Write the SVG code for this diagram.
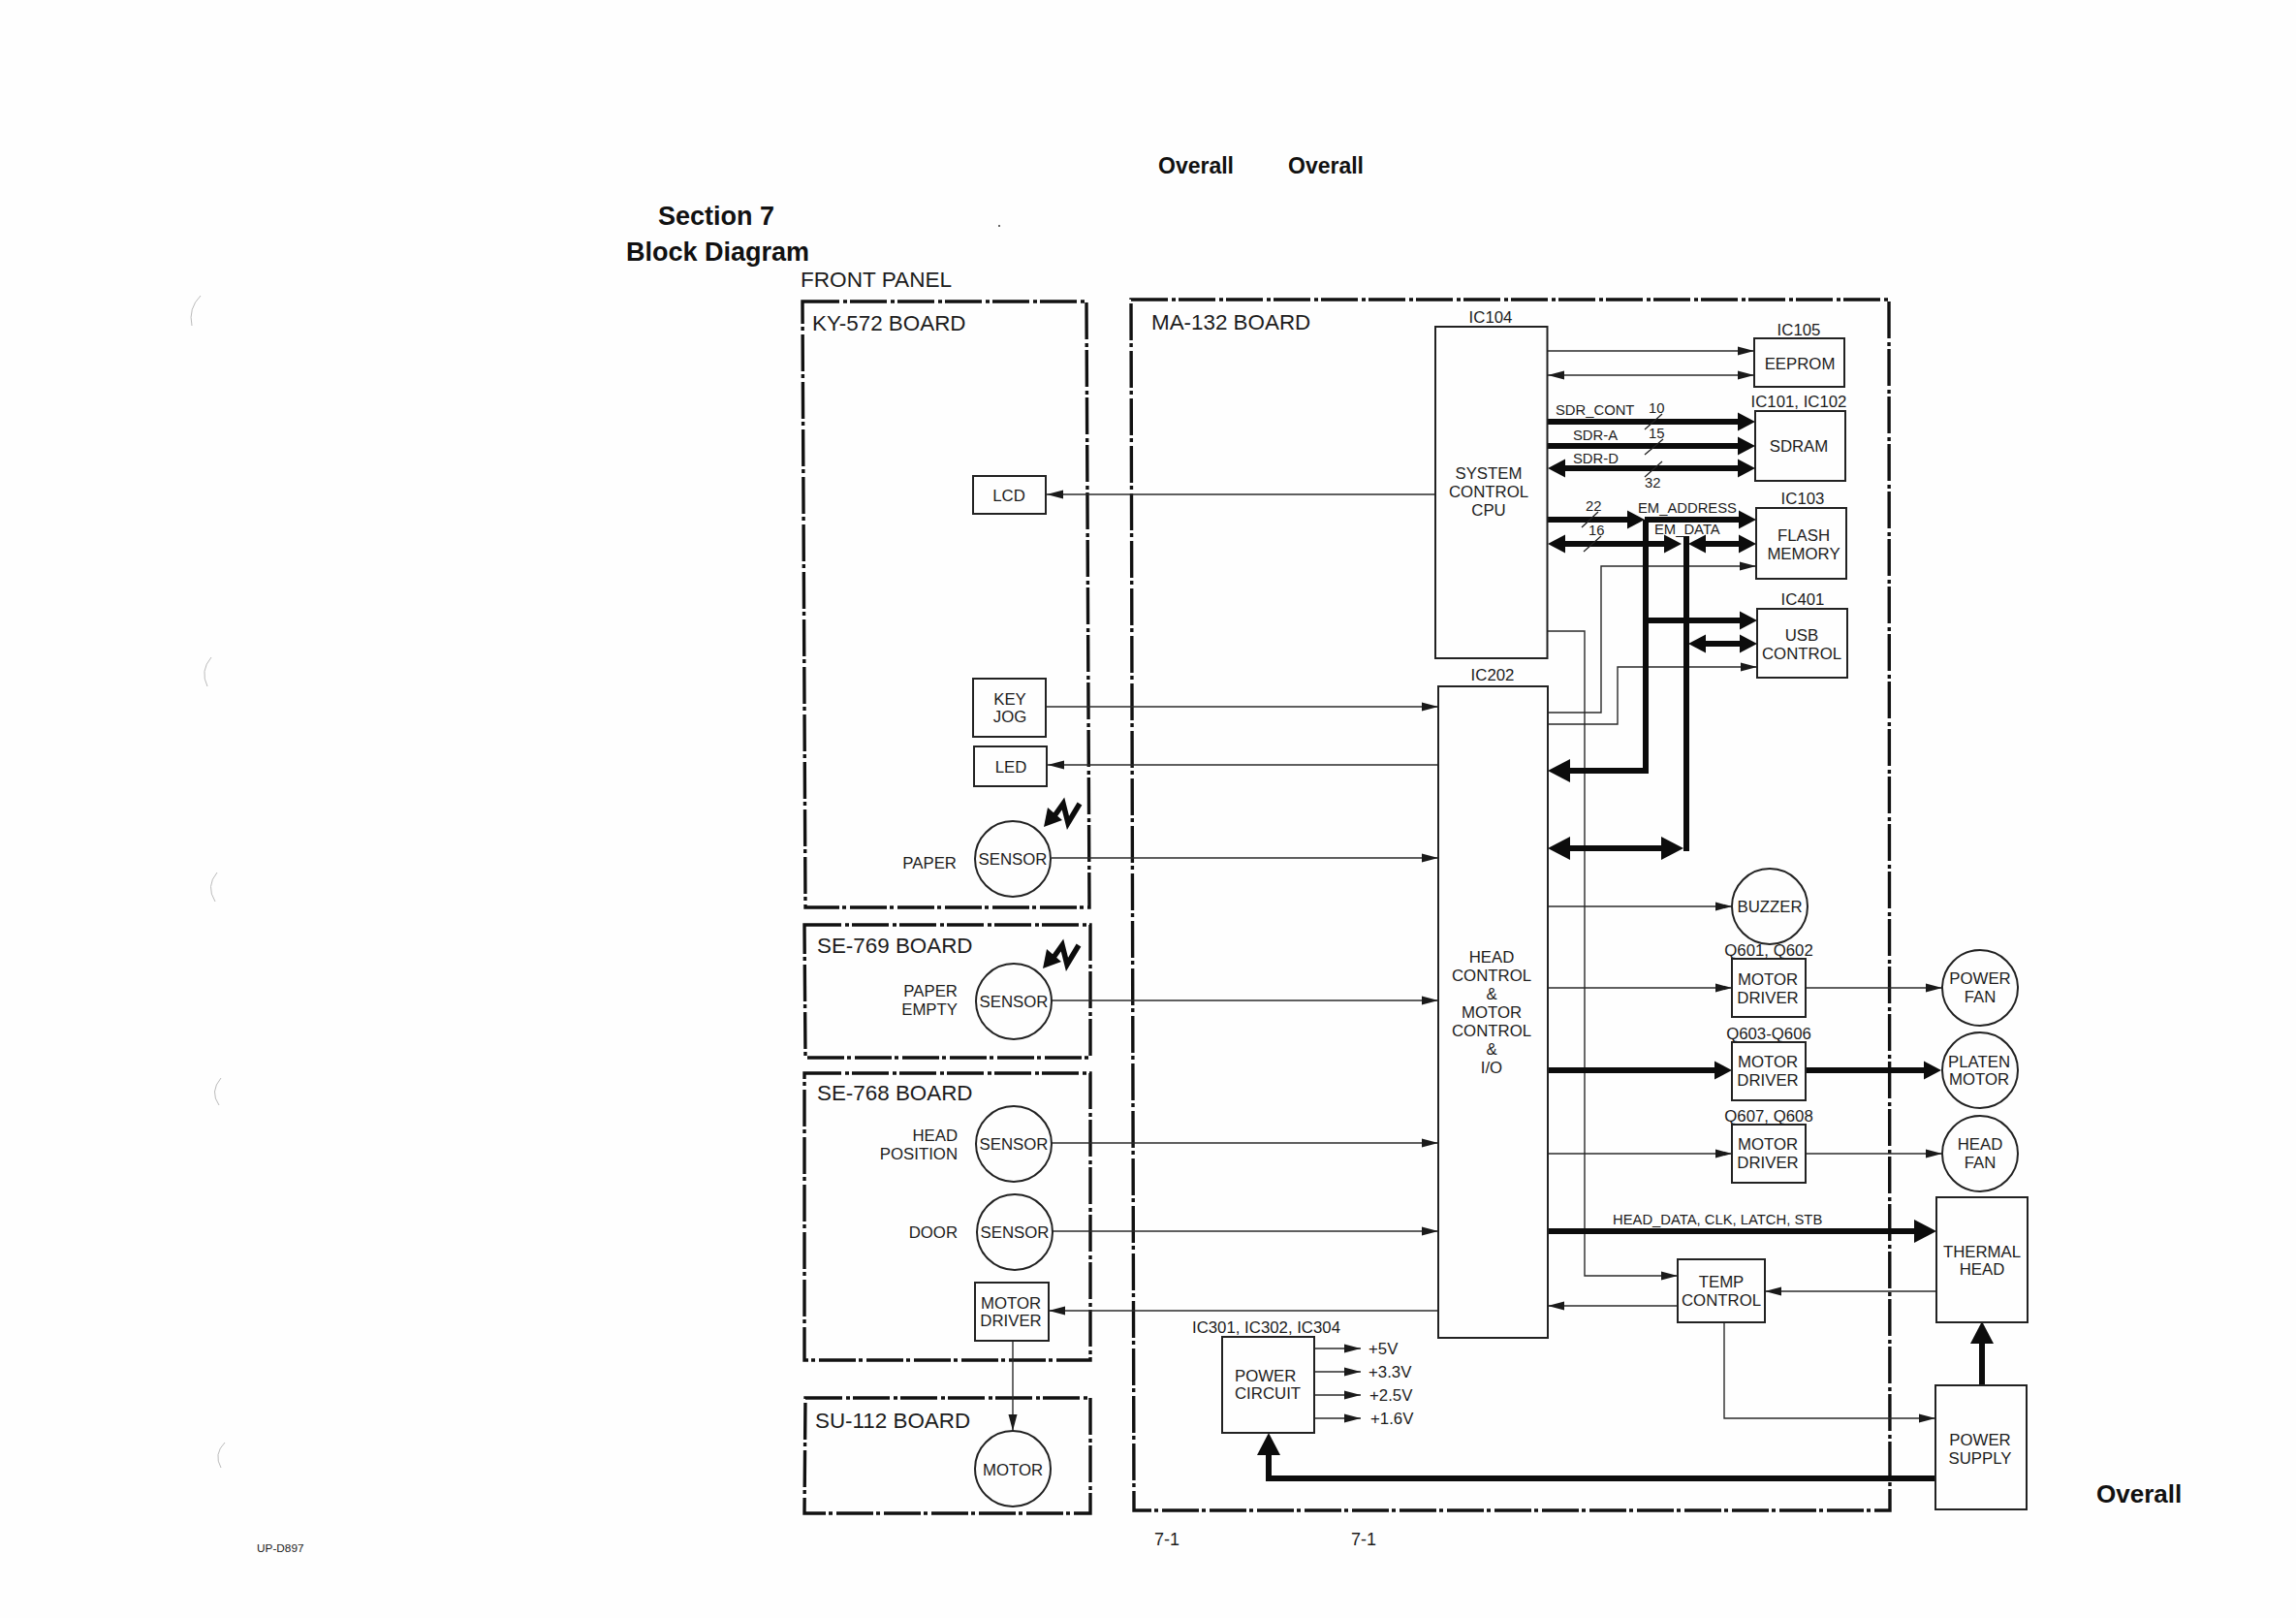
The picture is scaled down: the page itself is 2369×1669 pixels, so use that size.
<svg xmlns="http://www.w3.org/2000/svg" width="2369" height="1669" viewBox="0 0 2369 1669">
<style>
text{font-family:"Liberation Sans",Arial,sans-serif;fill:#1c1c1c;font-size:16.8px}
.c{text-anchor:middle}.e{text-anchor:end}
.h{font-weight:bold;fill:#111}
.b{font-size:22.4px}
.s{font-size:14.8px}
.box{fill:none;stroke:#222;stroke-width:2}
.board{fill:none;stroke:#111;stroke-width:3.4;stroke-dasharray:38 4 4 3}
.thin{fill:none;stroke:#2a2a2a;stroke-width:1.4;marker-end:url(#ta)}
.thinb{fill:none;stroke:#2a2a2a;stroke-width:1.4;marker-end:url(#ta);marker-start:url(#ta)}
.bus{fill:none;stroke:#0c0c0c;stroke-width:6}
.slash{fill:none;stroke:#222;stroke-width:1.3}
.scan{fill:none;stroke:#bbb;stroke-width:1}
</style>
<defs>
<marker id="ta" markerUnits="userSpaceOnUse" markerWidth="18" markerHeight="11" refX="17" refY="5" orient="auto-start-reverse"><path d="M0 .5L17 5L0 9.5z" fill="#1a1a1a"/></marker>
<marker id="tb" markerUnits="userSpaceOnUse" markerWidth="19" markerHeight="20" refX="2" refY="10" orient="auto-start-reverse"><path d="M0 .5L18 10L0 19.5z" fill="#0c0c0c"/></marker>
<marker id="hb" markerUnits="userSpaceOnUse" markerWidth="24" markerHeight="24" refX="2" refY="12" orient="auto-start-reverse"><path d="M0 0L23 12L0 24z" fill="#0c0c0c"/></marker>
<path id="bolt" d="M1114 829L1102 849L1097 829L1087 843" fill="none" stroke="#0c0c0c" stroke-width="5.5"/>
<path id="bolthead" d="M1077 853L1081 833L1096 846z" fill="#0c0c0c"/>
</defs>
<rect width="2369" height="1669" fill="#fefefe"/>
<g id="scan-marks">
<path class="scan" d="M207 305Q194 318 198 336"/>
<path class="scan" d="M218 678Q206 692 214 708"/>
<path class="scan" d="M224 900Q212 914 222 930"/>
<path class="scan" d="M228 1112Q216 1126 226 1140"/>
<path class="scan" d="M232 1488Q220 1500 228 1514"/>
<circle cx="1031" cy="233" r="1" fill="#333"/>
</g>
<g id="headings">
<text class="h" x="1195" y="179" style="font-size:23px">Overall</text>
<text class="h" x="1329" y="179" style="font-size:23px">Overall</text>
<text class="h" x="679" y="232" style="font-size:27px">Section 7</text>
<text class="h" x="646" y="269" style="font-size:27px">Block Diagram</text>
<text class="b" x="826" y="296" style="font-size:22.6px">FRONT PANEL</text>
<text class="h" x="2163" y="1550" style="font-size:26px">Overall</text>
<text x="1191" y="1594" style="font-size:18px">7-1</text>
<text x="1394" y="1594" style="font-size:18px">7-1</text>
<text x="265" y="1601" style="font-size:11.8px">UP-D897</text>
</g>
<g id="boards">
<g id="board-ky572"><path class="board" d="M828 311H1121L1124 936H831z"/><text class="b" x="838" y="341">KY-572 BOARD</text></g>
<g id="board-se769"><path class="board" d="M830 954H1125V1091H831z"/><text class="b" x="843" y="983">SE-769 BOARD</text></g>
<g id="board-se768"><path class="board" d="M830 1107H1125V1403H830z"/><text class="b" x="843" y="1135">SE-768 BOARD</text></g>
<g id="board-su112"><path class="board" d="M831 1442H1125V1561H830z"/><text class="b" x="841" y="1473">SU-112 BOARD</text></g>
<g id="board-ma132"><path class="board" d="M1167 309H1949L1950 1558H1170z"/><text class="b" x="1188" y="340">MA-132 BOARD</text></g>
</g>
<g id="connectors">
<path class="thin" d="M1481 510H1080"/>
<path class="thin" d="M1080 729H1484"/>
<path class="thin" d="M1484 789H1081"/>
<path class="thin" d="M1085 885H1484"/>
<path class="thin" d="M1085 1032H1484"/>
<path class="thin" d="M1085 1179H1484"/>
<path class="thin" d="M1086 1270H1484"/>
<path class="thin" d="M1484 1352H1082"/>
<path class="thin" d="M1045 1383V1476"/>
<path class="thin" d="M1597 362H1810"/>
<path class="thinb" d="M1597 387H1810"/>
<path class="thin" d="M1597 735H1652V584H1812"/>
<path class="thin" d="M1597 747H1669V688H1813"/>
<path class="thin" d="M1597 651H1635V1316H1731"/>
<path class="thin" d="M1597 935H1787"/>
<path class="thin" d="M1597 1019H1787"/>
<path class="thin" d="M1597 1190H1787"/>
<path class="thin" d="M1863 1019H2004"/>
<path class="thin" d="M1863 1190H2004"/>
<path class="thin" d="M1731 1347H1597"/>
<path class="thin" d="M1998 1332H1821"/>
<path class="thin" d="M1779 1363V1463H1997"/>
<path class="thin" d="M1356 1391H1404"/>
<path class="thin" d="M1356 1415H1404"/>
<path class="thin" d="M1356 1439H1404"/>
<path class="thin" d="M1356 1463H1404"/>
<path class="bus" d="M1597 435H1795" marker-end="url(#tb)"/>
<path class="bus" d="M1597 460H1795" marker-end="url(#tb)"/>
<path class="bus" d="M1613 483H1795" marker-start="url(#tb)" marker-end="url(#tb)"/>
<path class="bus" d="M1597 536H1681" marker-end="url(#tb)"/>
<path class="bus" d="M1697 536H1796" marker-end="url(#tb)"/>
<path class="bus" d="M1613 561H1719" marker-start="url(#tb)" marker-end="url(#tb)"/>
<path class="bus" d="M1758 561H1796" marker-start="url(#tb)" marker-end="url(#tb)"/>
<path class="bus" d="M1698 536V795H1618" marker-end="url(#hb)"/>
<path class="bus" d="M1740 553V878"/>
<path class="bus" d="M1618 875H1716" marker-start="url(#hb)" marker-end="url(#hb)"/>
<path class="bus" d="M1698 640H1797" marker-end="url(#tb)"/>
<path class="bus" d="M1758 664H1797" marker-start="url(#tb)" marker-end="url(#tb)"/>
<path class="bus" d="M1597 1104H1771" marker-end="url(#tb)"/>
<path class="bus" d="M1863 1104H1987" marker-end="url(#tb)"/>
<path class="bus" d="M1597 1270H1977" marker-end="url(#hb)"/>
<path class="bus" d="M2045 1429V1384" marker-end="url(#hb)"/>
<path class="bus" d="M1997 1525H1309V1499" marker-end="url(#hb)"/>
<path class="slash" d="M1697 443L1715 427M1697 469L1716 453M1697 492L1715 476M1632 544L1649 528M1634 569L1652 553"/>
<text class="s" x="1605" y="428">SDR_CONT</text>
<text class="s" x="1701" y="426">10</text>
<text class="s" x="1623" y="454">SDR-A</text>
<text class="s" x="1701" y="452">15</text>
<text class="s" x="1623" y="478">SDR-D</text>
<text class="s" x="1697" y="503">32</text>
<text class="s" x="1636" y="527">22</text>
<text class="s" x="1639" y="552">16</text>
<text class="s" x="1690" y="529">EM_ADDRESS</text>
<text class="s" x="1707" y="551">EM_DATA</text>
<text x="1664" y="1263" style="font-size:14.8px">HEAD_DATA, CLK, LATCH, STB</text>
<text x="1412" y="1397">+5V</text>
<text x="1412" y="1421">+3.3V</text>
<text x="1413" y="1445">+2.5V</text>
<text x="1414" y="1469">+1.6V</text>
</g>
<g id="ic104"><rect class="box" x="1481" y="337" width="115.500" height="342"/><text class="c" x="1538" y="333">IC104</text><text class="c" x="1536" y="494">SYSTEM</text><text class="c" x="1536" y="513">CONTROL</text><text class="c" x="1536" y="532">CPU</text></g>
<g id="ic202"><rect class="box" x="1484" y="708" width="113" height="672"/><text class="c" x="1540" y="702">IC202</text><text class="c" x="1539" y="993">HEAD</text><text class="c" x="1539" y="1012">CONTROL</text><text class="c" x="1539" y="1031">&amp;</text><text class="c" x="1539" y="1050">MOTOR</text><text class="c" x="1539" y="1069">CONTROL</text><text class="c" x="1539" y="1088">&amp;</text><text class="c" x="1539" y="1107">I/O</text></g>
<g id="eeprom"><rect class="box" x="1810" y="349" width="93" height="50"/><text class="c" x="1856" y="346">IC105</text><text class="c" x="1857" y="381">EEPROM</text></g>
<g id="sdram"><rect class="box" x="1811" y="424" width="93" height="72"/><text class="c" x="1856" y="420">IC101, IC102</text><text class="c" x="1856" y="466">SDRAM</text></g>
<g id="flash"><rect class="box" x="1812" y="524" width="93" height="73"/><text class="c" x="1860" y="520">IC103</text><text class="c" x="1861" y="558">FLASH</text><text class="c" x="1861" y="577">MEMORY</text></g>
<g id="usb"><rect class="box" x="1813" y="628" width="93" height="71"/><text class="c" x="1860" y="624">IC401</text><text class="c" x="1859" y="661">USB</text><text class="c" x="1859" y="680">CONTROL</text></g>
<g id="lcd"><rect class="box" x="1004" y="491" width="75" height="39"/><text class="c" x="1041" y="517">LCD</text></g>
<g id="keyjog"><rect class="box" x="1004" y="700" width="75" height="60"/><text class="c" x="1042" y="727">KEY</text><text class="c" x="1042" y="745">JOG</text></g>
<g id="led"><rect class="box" x="1005" y="770" width="75" height="41"/><text class="c" x="1043" y="797">LED</text></g>
<g id="sensor-paper"><circle class="box" cx="1045" cy="886" r="39"/><text class="c" x="1045" y="892">SENSOR</text><text class="e" x="987" y="896">PAPER</text><use href="#bolt"/><use href="#bolthead"/></g>
<g id="sensor-paper-empty"><circle class="box" cx="1046" cy="1033" r="39"/><text class="c" x="1046" y="1039">SENSOR</text><text class="e" x="988" y="1028">PAPER</text><text class="e" x="988" y="1047">EMPTY</text><use href="#bolt" transform="translate(-1 146)"/><use href="#bolthead" transform="translate(-1 146)"/></g>
<g id="sensor-head"><circle class="box" cx="1046" cy="1180" r="39"/><text class="c" x="1046" y="1186">SENSOR</text><text class="e" x="988" y="1177">HEAD</text><text class="e" x="988" y="1196">POSITION</text></g>
<g id="sensor-door"><circle class="box" cx="1047" cy="1271" r="39"/><text class="c" x="1047" y="1277">SENSOR</text><text class="e" x="988" y="1277">DOOR</text></g>
<g id="motor-driver-se"><rect class="box" x="1006" y="1323" width="76" height="60"/><text class="c" x="1043" y="1350">MOTOR</text><text class="c" x="1043" y="1368">DRIVER</text></g>
<g id="motor"><circle class="box" cx="1045" cy="1515" r="39"/><text class="c" x="1045" y="1522">MOTOR</text></g>
<g id="buzzer"><circle class="box" cx="1826" cy="935" r="39"/><text class="c" x="1826" y="941">BUZZER</text></g>
<g id="driver1"><rect class="box" x="1787" y="989" width="76" height="60"/><text class="c" x="1825" y="986">Q601, Q602</text><text class="c" x="1824" y="1016">MOTOR</text><text class="c" x="1824" y="1035">DRIVER</text></g>
<g id="driver2"><rect class="box" x="1787" y="1075" width="76" height="60"/><text class="c" x="1825" y="1072">Q603-Q606</text><text class="c" x="1824" y="1101">MOTOR</text><text class="c" x="1824" y="1120">DRIVER</text></g>
<g id="driver3"><rect class="box" x="1787" y="1160" width="76" height="60"/><text class="c" x="1825" y="1157">Q607, Q608</text><text class="c" x="1824" y="1186">MOTOR</text><text class="c" x="1824" y="1205">DRIVER</text></g>
<g id="power-fan"><circle class="box" cx="2043" cy="1019" r="39"/><text class="c" x="2043" y="1015">POWER</text><text class="c" x="2043" y="1034">FAN</text></g>
<g id="platen-motor"><circle class="box" cx="2043" cy="1104" r="39"/><text class="c" x="2042" y="1101">PLATEN</text><text class="c" x="2042" y="1119">MOTOR</text></g>
<g id="head-fan"><circle class="box" cx="2043" cy="1190" r="39"/><text class="c" x="2043" y="1186">HEAD</text><text class="c" x="2043" y="1205">FAN</text></g>
<g id="thermal-head"><rect class="box" x="1998" y="1235" width="94" height="129"/><text class="c" x="2045" y="1297">THERMAL</text><text class="c" x="2045" y="1315">HEAD</text></g>
<g id="power-supply"><rect class="box" x="1997" y="1429" width="94" height="128"/><text class="c" x="2043" y="1491">POWER</text><text class="c" x="2043" y="1510">SUPPLY</text></g>
<g id="temp-control"><rect class="box" x="1731" y="1299" width="90" height="65"/><text class="c" x="1776" y="1328">TEMP</text><text class="c" x="1776" y="1347">CONTROL</text></g>
<g id="power-circuit"><rect class="box" x="1261" y="1379" width="95" height="99"/><text x="1230" y="1375">IC301, IC302, IC304</text><text x="1274" y="1425">POWER</text><text x="1274" y="1443">CIRCUIT</text></g>
</svg>
